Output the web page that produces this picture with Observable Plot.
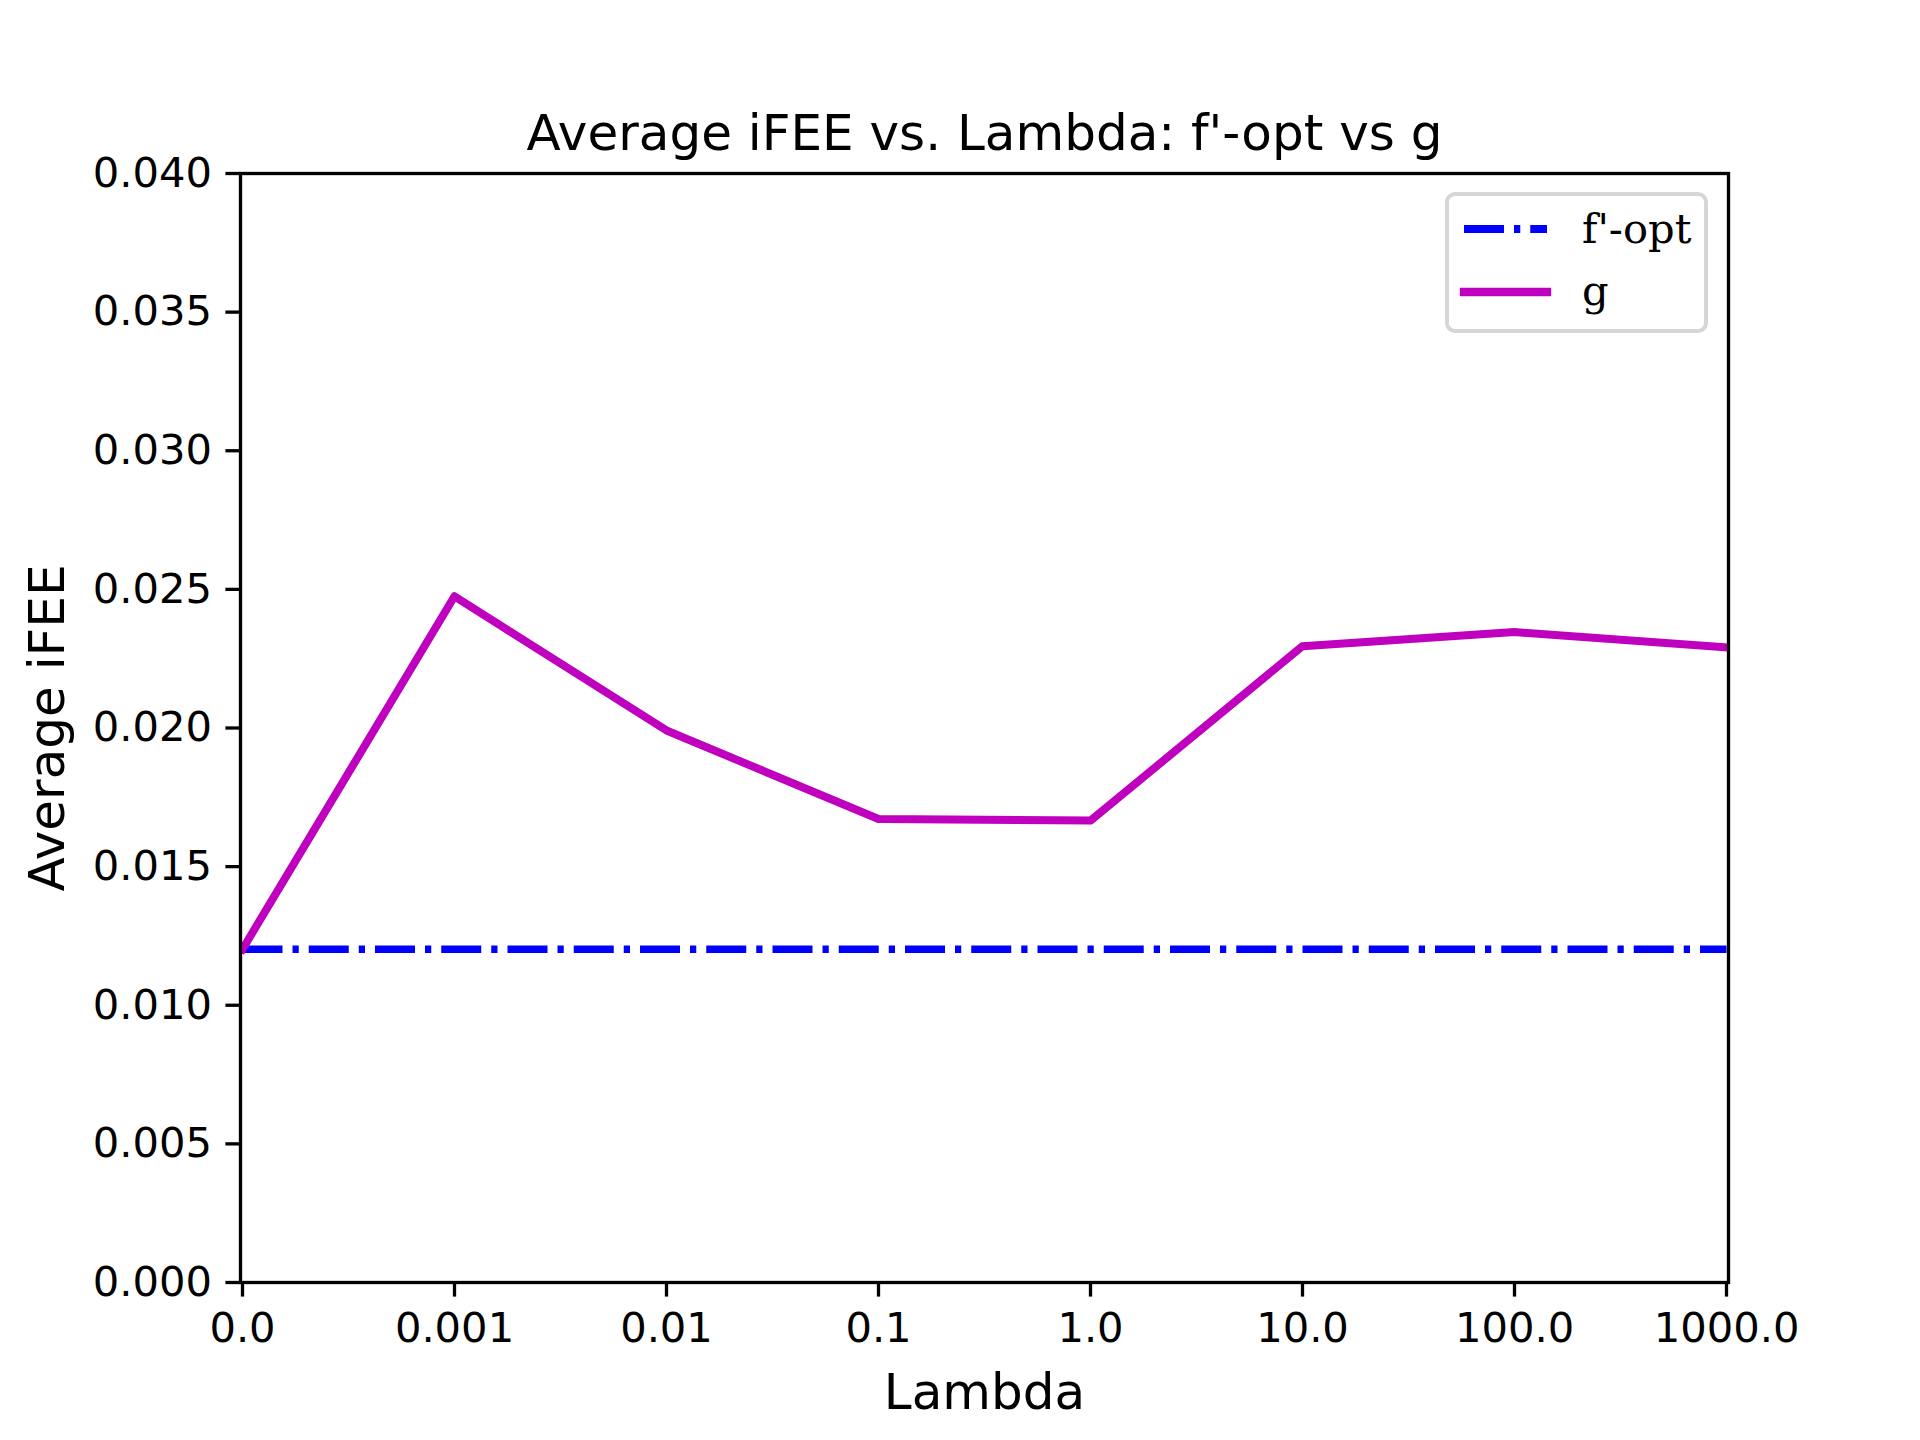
<!DOCTYPE html>
<html>
<head>
<meta charset="utf-8">
<script src="https://cdn.jsdelivr.net/npm/d3@7"></script>
<script src="https://cdn.jsdelivr.net/npm/@observablehq/plot@0.6"></script>
<style>
  html, body { margin: 0; padding: 0; background: #fff; }
  #wrap { position: relative; width: 1920px; height: 1440px; }
  #legend {
    position: absolute; left: 1445px; top: 192px; width: 263px; height: 141px;
    box-sizing: border-box; border: 4px solid #d6d6d6; border-radius: 10px;
    background: rgba(255,255,255,0.8);
  }
  #legend svg { position: absolute; left: 0; top: 0; overflow: visible; }
</style>
</head>
<body>
<div id="wrap"></div>
<script>
const lambdaLabels = ["0.0", "0.001", "0.01", "0.1", "1.0", "10.0", "100.0", "1000.0"];
const gValues = [0.01202, 0.02475, 0.01991, 0.01672, 0.01666, 0.02295, 0.02346, 0.02291];
const foptValues = [0.01202, 0.01202, 0.01202, 0.01202, 0.01202, 0.01202, 0.01202, 0.01202];
const yTicks = [0, 0.005, 0.010, 0.015, 0.020, 0.025, 0.030, 0.035, 0.040];
const seriesNames = ["f'-opt", "g"];
const seriesColors = ["#0000ff", "#bf00bf"];
const titleText = "Average iFEE vs. Lambda: f'-opt vs g";
const xLabel = "Lambda";
const yLabel = "Average iFEE";

const foptData = lambdaLabels.map((l, i) => ({lambda: l, value: foptValues[i]}));
const gData = lambdaLabels.map((l, i) => ({lambda: l, value: gValues[i]}));

const chart = Plot.plot({
  width: 1920,
  height: 1440,
  marginLeft: 240,
  marginRight: 192,
  marginTop: 173,
  marginBottom: 158,
  style: {fontFamily: "'DejaVu Sans', sans-serif", fontSize: "41.67px", color: "#000", background: "#fff", overflow: "visible"},
  x: {type: "point", domain: lambdaLabels, padding: 0, label: null},
  y: {domain: [0, 0.04], label: null},
  marks: [
    Plot.line(foptData, {x: "lambda", y: "value", stroke: seriesColors[0], strokeWidth: 7.5,
      strokeDasharray: "40,10,6.25,10", strokeLinecap: "butt", clip: true}),
    Plot.line(gData, {x: "lambda", y: "value", stroke: seriesColors[1], strokeWidth: 8,
      strokeLinejoin: "round", strokeLinecap: "square", clip: true}),
    Plot.axisX({tickSize: 14.6, tickPadding: 15, strokeWidth: 3.3, fontSize: 41.67, label: null}),
    Plot.axisY({ticks: yTicks, tickFormat: d3.format(".3f"), tickSize: 14.6, tickPadding: 14,
      strokeWidth: 3.3, fontSize: 41.67, label: null}),
    Plot.frame({stroke: "#000", strokeWidth: 3.33}),
    Plot.text([titleText], {text: d => d, frameAnchor: "top", textAnchor: "middle", dy: -24, lineAnchor: "bottom", fontSize: 50}),
    Plot.text([xLabel], {text: d => d, frameAnchor: "bottom", textAnchor: "middle", dy: 126, lineAnchor: "bottom", fontSize: 50}),
    Plot.text([yLabel], {text: d => d, frameAnchor: "left", textAnchor: "middle", dx: -177, rotate: -90, lineAnchor: "bottom", fontSize: 50})
  ]
});

const wrap = document.getElementById("wrap");
wrap.appendChild(chart);

// Legend
const legend = document.createElement("div");
legend.id = "legend";
const ns = "http://www.w3.org/2000/svg";
const lsvg = document.createElementNS(ns, "svg");
lsvg.setAttribute("width", "255");
lsvg.setAttribute("height", "133");
const rowY = [33, 96];
const textY = [47, 109];
seriesNames.forEach((name, i) => {
  const line = document.createElementNS(ns, "line");
  line.setAttribute("x1", 15);
  line.setAttribute("x2", 98);
  line.setAttribute("y1", rowY[i]);
  line.setAttribute("y2", rowY[i]);
  line.setAttribute("stroke", seriesColors[i]);
  if (i === 0) {
    line.setAttribute("stroke-width", 8);
    line.setAttribute("stroke-dasharray", "40,10,6.25,10");
    line.setAttribute("stroke-linecap", "butt");
  } else {
    line.setAttribute("stroke-width", 8.3);
    line.setAttribute("stroke-linecap", "square");
  }
  lsvg.appendChild(line);
  const t = document.createElementNS(ns, "text");
  t.setAttribute("x", 133);
  t.setAttribute("y", textY[i]);
  t.setAttribute("font-family", "'DejaVu Serif', serif");
  t.setAttribute("font-size", "41.67");
  t.setAttribute("fill", "#000");
  t.textContent = name;
  lsvg.appendChild(t);
});
legend.appendChild(lsvg);
wrap.appendChild(legend);
</script>
</body>
</html>
